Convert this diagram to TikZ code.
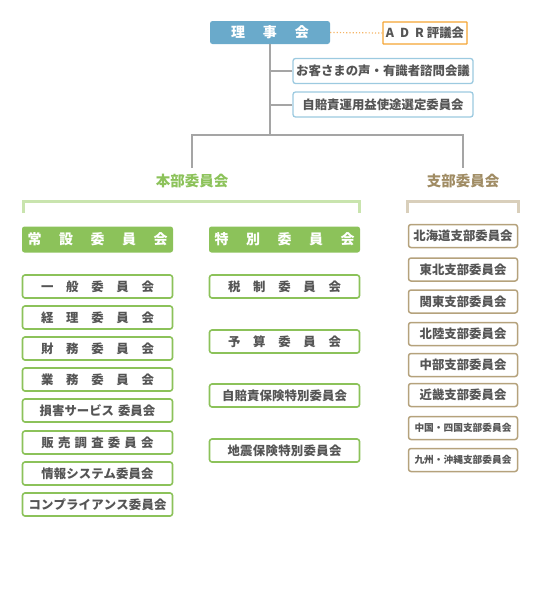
\documentclass[tikz,border=0pt]{standalone}
\usepackage{fontspec}
\setmainfont{Noto Sans CJK JP}
\definecolor{txt}{HTML}{555555}
\definecolor{bluefill}{HTML}{6AAACB}
\definecolor{blueline}{HTML}{9CCAE0}
\definecolor{orangeb}{HTML}{F5A533}
\definecolor{orangel}{HTML}{F5B466}
\definecolor{grn}{HTML}{8CC25A}
\definecolor{grnlight}{HTML}{C9E4AE}
\definecolor{tantxt}{HTML}{A08C64}
\definecolor{tanlight}{HTML}{D9CFBB}
\definecolor{tanb}{HTML}{B5A27C}
\definecolor{conn}{HTML}{A5A5A5}
\newcommand\spreadtext[2]{\makebox[#1]{#2}}
\begin{document}
\begin{tikzpicture}[x=1pt,y=-1pt,
  base/.style={inner sep=0pt, rounded corners=2.5pt, font=\bfseries\fontsize{12.4}{12.4}\selectfont, text=txt},
  topbox/.style={base, fill=bluefill, text=white, minimum width=120pt, minimum height=23pt, font=\bfseries\fontsize{14}{14}\selectfont},
  adrbox/.style={base, draw=orangeb, line width=1.3pt, fill=white, minimum width=84pt, minimum height=22pt, rounded corners=0.5pt},
  bluebox/.style={base, draw=blueline, line width=1.3pt, fill=white, minimum width=180pt, minimum height=25pt},
  headbox/.style={base, fill=grn, text=white, minimum width=151pt, minimum height=26pt, font=\bfseries\fontsize{14}{14}\selectfont},
  gbox/.style={base, draw=grn, line width=1.6pt, fill=white, minimum width=150pt, minimum height=23pt},
  tbox/.style={base, draw=tanb, line width=1.5pt, fill=white, minimum width=109pt, minimum height=23pt},
  small/.style={font=\bfseries\fontsize{9.7}{10}\selectfont},
  conline/.style={draw=conn, line width=2pt},
  grouplabel/.style={inner sep=0pt, font=\bfseries\fontsize{14.5}{15}\selectfont}
]
\useasboundingbox (0,0) rectangle (540,600);

% top
\node[topbox] (board) at (270,32.5) {\spreadtext{78pt}{理\hfill 事\hfill 会}};
\node[adrbox] (adr) at (425,33) {A\hspace{6pt}D\hspace{6pt}R\hspace{3pt}評議会};
\draw[orangel, line width=1.2pt, dotted] (board.east) -- (adr.west);

\node[bluebox] (voice) at (383,71) {お客さまの声・有識者諮問会議};
\node[bluebox] (jibai) at (383,104.5) {自賠責運用益使途選定委員会};

\coordinate (split) at (270,135);
\coordinate (hq) at (192,168);
\coordinate (br) at (463,168);
\draw[conline] (board.south) -- (split);
\draw[conline] (voice.west) -- (voice.west -| board.south);
\draw[conline] (jibai.west) -- (jibai.west -| board.south);
\draw[conline] (hq) |- (split) -| (br);

\node[grouplabel, text=grn] (hqlabel) at (192,181) {本部委員会};
\node[grouplabel, text=tantxt] (brlabel) at (463,181) {支部委員会};

% brackets
\coordinate (gb1) at (23,213);
\coordinate (gb2) at (359,213);
\draw[grnlight, line width=3pt] (gb1) |- (191,201.5) -| (gb2);
\coordinate (tb1) at (407,213);
\coordinate (tb2) at (518,213);
\draw[tanlight, line width=3pt] (tb1) |- (463,201.5) -| (tb2);

% headers
\node[headbox] (perm) at (97.5,239.5) {\spreadtext{140pt}{常\hfill 設\hfill 委\hfill 員\hfill 会}};
\node[headbox] (spec) at (284.5,239.5) {\spreadtext{140pt}{特\hfill 別\hfill 委\hfill 員\hfill 会}};

% left column
\node[gbox] (l1) at (97.5,286.5) {\spreadtext{113pt}{一\hfill 般\hfill 委\hfill 員\hfill 会}};
\node[gbox] (l2) at (97.5,317.5) {\spreadtext{113pt}{経\hfill 理\hfill 委\hfill 員\hfill 会}};
\node[gbox] (l3) at (97.5,348.5) {\spreadtext{113pt}{財\hfill 務\hfill 委\hfill 員\hfill 会}};
\node[gbox] (l4) at (97.5,379.5) {\spreadtext{113pt}{業\hfill 務\hfill 委\hfill 員\hfill 会}};
\node[gbox] (l5) at (97.5,410.5) {損害サービス\hspace{4pt}委員会};
\node[gbox] (l6) at (97.5,442.5) {\spreadtext{112pt}{販\hfill 売\hfill 調\hfill 査\hfill 委\hfill 員\hfill 会}};
\node[gbox] (l7) at (97.5,473.5) {\spreadtext{112pt}{情\hfill 報\hfill シ\hfill ス\hfill テ\hfill ム\hfill 委\hfill 員\hfill 会}};
\node[gbox] (l8) at (97.5,504.5) {\spreadtext{138pt}{コ\hfill ン\hfill プ\hfill ラ\hfill イ\hfill ア\hfill ン\hfill ス\hfill 委\hfill 員\hfill 会}};

% middle column
\node[gbox] (m1) at (284.5,286.5) {\spreadtext{113pt}{税\hfill 制\hfill 委\hfill 員\hfill 会}};
\node[gbox] (m2) at (284.5,341.5) {\spreadtext{113pt}{予\hfill 算\hfill 委\hfill 員\hfill 会}};
\node[gbox] (m3) at (284.5,395.5) {\spreadtext{125pt}{自\hfill 賠\hfill 責\hfill 保\hfill 険\hfill 特\hfill 別\hfill 委\hfill 員\hfill 会}};
\node[gbox] (m4) at (284.5,450.5) {\spreadtext{114pt}{地\hfill 震\hfill 保\hfill 険\hfill 特\hfill 別\hfill 委\hfill 員\hfill 会}};

% right column
\node[tbox] (r1) at (463,236) {北海道支部委員会};
\node[tbox] (r2) at (463,269.5) {東北支部委員会};
\node[tbox] (r3) at (463,301.5) {関東支部委員会};
\node[tbox] (r4) at (463,334) {北陸支部委員会};
\node[tbox] (r5) at (463,365) {中部支部委員会};
\node[tbox] (r6) at (463,395) {近畿支部委員会};
\node[tbox, small] (r7) at (463,428) {中国・四国支部委員会};
\node[tbox, small] (r8) at (463,460) {九州・沖縄支部委員会};
\end{tikzpicture}
\end{document}
